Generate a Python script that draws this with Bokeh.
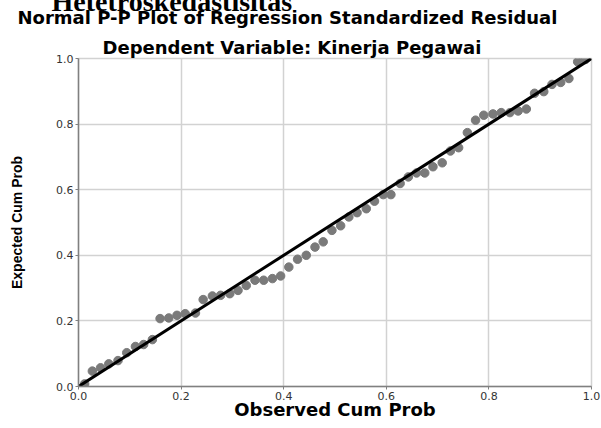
from bokeh.plotting import figure
from bokeh.models import Title, FixedTicker, PrintfTickFormatter, Range1d
from bokeh.embed import file_html
from bokeh.resources import INLINE

# Observed vs expected cumulative probabilities
observed = [0.012, 0.027, 0.043, 0.059, 0.077, 0.094, 0.111, 0.127, 0.144, 0.159,
            0.176, 0.192, 0.208, 0.228, 0.243, 0.261, 0.277, 0.295, 0.311, 0.327,
            0.344, 0.361, 0.378, 0.394, 0.410, 0.427, 0.444, 0.461, 0.477, 0.494,
            0.511, 0.527, 0.543, 0.561, 0.577, 0.594, 0.609, 0.627, 0.643, 0.659,
            0.675, 0.691, 0.709, 0.725, 0.741, 0.758, 0.774, 0.790, 0.808, 0.824,
            0.841, 0.857, 0.873, 0.889, 0.907, 0.923, 0.940, 0.956, 0.973, 0.988]
expected = [0.008, 0.047, 0.057, 0.069, 0.079, 0.103, 0.122, 0.128, 0.143, 0.207,
            0.209, 0.217, 0.222, 0.224, 0.265, 0.276, 0.278, 0.283, 0.293, 0.308,
            0.324, 0.324, 0.329, 0.337, 0.364, 0.388, 0.400, 0.425, 0.441, 0.476,
            0.490, 0.517, 0.530, 0.542, 0.565, 0.585, 0.585, 0.619, 0.639, 0.651,
            0.651, 0.670, 0.682, 0.718, 0.728, 0.774, 0.812, 0.827, 0.831, 0.835,
            0.835, 0.840, 0.846, 0.894, 0.899, 0.921, 0.927, 0.939, 0.990, 0.997]
diag_x = [0.0, 1.0]
diag_y = [0.0, 1.0]
ticks = [0.0, 0.2, 0.4, 0.6, 0.8, 1.0]

top_title = "Hetetroskedastisitas"
title1 = "Normal P-P Plot of Regression Standardized Residual"
title2 = "Dependent Variable: Kinerja Pegawai"
x_label = "Observed Cum Prob"
y_label = "Expected Cum Prob"

W, H = 601, 428
p = figure(width=W, height=H, output_backend="svg", toolbar_location=None,
           x_range=Range1d(0, 1), y_range=Range1d(0, 1),
           min_border_left=78, min_border_right=10,
           min_border_top=58, min_border_bottom=42)
p.background_fill_color = "white"
p.border_fill_color = "white"
p.outline_line_color = "#d2d2d2"
p.outline_line_width = 1.5

for ax in (p.xaxis[0], p.yaxis[0]):
    ax.ticker = FixedTicker(ticks=ticks)
    ax.formatter = PrintfTickFormatter(format="%.1f")
    ax.major_label_text_font = "DejaVu Sans"
    ax.major_label_text_font_size = "11px"
    ax.major_label_text_color = "#333333"
    ax.axis_line_color = "#808080"
    ax.axis_line_width = 1.5
    ax.major_tick_line_color = "#808080"
    ax.major_tick_out = 3
    ax.major_tick_in = 0
    ax.minor_tick_line_color = None
    ax.axis_label_text_font_style = "bold"
    ax.axis_label_text_color = "black"
    ax.major_label_standoff = 2

p.xaxis[0].axis_label = x_label
p.xaxis[0].axis_label_text_font = "DejaVu Sans"
p.xaxis[0].axis_label_text_font_size = "18px"
p.xaxis[0].axis_label_standoff = -4

p.yaxis[0].axis_label = y_label
p.yaxis[0].axis_label_text_font = "Liberation Sans"
p.yaxis[0].axis_label_text_font_size = "14px"
p.yaxis[0].axis_label_standoff = 28

p.xgrid.ticker = FixedTicker(ticks=ticks)
p.ygrid.ticker = FixedTicker(ticks=ticks)
p.xgrid.grid_line_color = "#d2d2d2"
p.ygrid.grid_line_color = "#d2d2d2"
p.xgrid.grid_line_width = 1.5
p.ygrid.grid_line_width = 1.5

p.scatter(observed, expected, size=8.5, fill_color="#7a7a7a", line_color="#7a7a7a")
p.line(diag_x, diag_y, line_color="black", line_width=3)

# titles stacked above the frame (first added = closest to the frame)
p.add_layout(Title(text=title2, align="left", offset=24, standoff=1.6,
                   vertical_align="bottom", text_font="DejaVu Sans",
                   text_font_style="bold", text_font_size="18px",
                   text_color="black"), "above")
p.add_layout(Title(text=title1, align="left", offset=-61, standoff=10.4,
                   vertical_align="bottom", text_font="DejaVu Sans",
                   text_font_style="bold", text_font_size="18px",
                   text_color="black"), "above")
p.add_layout(Title(text=top_title, align="left", offset=-27, standoff=-33,
                   vertical_align="bottom", text_font="Liberation Serif",
                   text_font_style="bold", text_font_size="28px",
                   text_color="black"), "above")

open("out.html", "w").write(file_html(p, INLINE))
